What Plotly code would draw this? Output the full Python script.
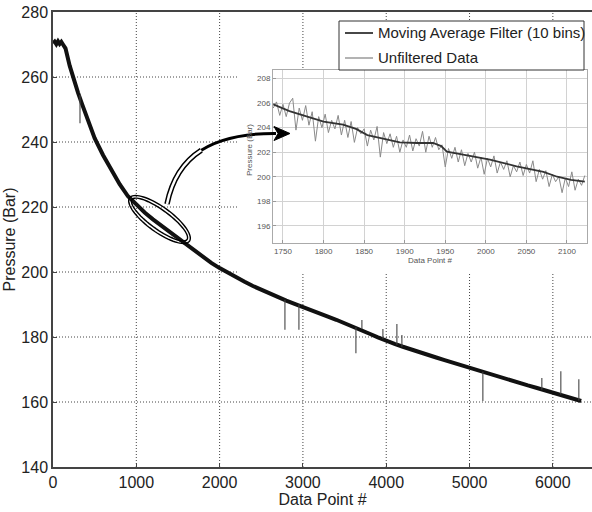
import math
import plotly.graph_objects as go

# ---------------- data ----------------
main_x = [0, 20, 40, 60, 80, 100, 120, 150, 200, 250, 300, 350, 400, 450, 500,
          600, 700, 800, 900, 1000, 1100, 1200, 1300, 1400, 1500, 1600, 1700,
          1800, 1900, 2000, 2100, 2200, 2300, 2400, 2500, 2600, 2700, 2800,
          2900, 3000, 3100, 3200, 3300, 3400, 3500, 3600, 3700, 3800, 3900,
          4000, 4100, 4200, 4300, 4400, 4500, 4600, 4700, 4800, 4900, 5000,
          5100, 5200, 5300, 5400, 5500, 5600, 5700, 5800, 5900, 6000, 6100,
          6200, 6300, 6340]
main_y = [270.4, 270.9, 270.1, 271.0, 270.2, 270.8, 270.0, 268.8, 263.5, 258.8,
          255.2, 251.6, 248.0, 244.5, 241.2, 236.0, 231.2, 227.0, 223.3, 220.6,
          218.3, 216.2, 214.3, 212.4, 210.5, 208.5, 206.5, 204.6, 202.8, 201.2,
          199.7, 198.3, 197.0, 195.7, 194.5, 193.3, 192.2, 191.2, 190.2, 189.3,
          188.3, 187.3, 186.3, 185.3, 184.3, 183.2, 182.2, 181.0, 179.9, 178.8,
          177.9, 177.0, 176.1, 175.3, 174.5, 173.7, 172.9, 172.1, 171.3, 170.5,
          169.7, 168.9, 168.1, 167.3, 166.5, 165.8, 165.1, 164.4, 163.7, 163.0,
          162.3, 161.5, 160.6, 160.3]

spike_x = [324, 2784, 2952, 3636, 3708, 3960, 4128, 4188, 5160, 5868, 6096, 6312]
spike_base = [254.5, 191.5, 190.0, 183.0, 182.5, 179.5, 177.6, 177.0, 169.3, 163.8, 162.3, 160.5]
spike_tip = [245.8, 182.2, 182.2, 175.0, 185.2, 182.5, 184.0, 180.6, 160.3, 167.4, 169.5, 167.0]

raw_x = list(range(1738, 2123, 4))
raw_y = [205.6, 206.1, 205.0, 205.9, 204.9, 206.0, 206.4, 203.8, 205.6, 204.6,
         205.8, 204.2, 205.3, 202.9, 204.9, 204.0, 205.1, 203.6, 204.6, 203.9,
         205.0, 203.4, 204.6, 203.2, 204.5, 202.8, 204.0, 203.5, 203.9, 202.5,
         203.8, 203.0, 204.1, 201.6, 203.6, 202.7, 203.5, 202.4, 203.3, 202.0,
         203.0, 202.4, 203.4, 202.1, 203.1, 202.5, 203.7, 202.0, 203.3, 202.4,
         203.2, 202.2, 202.6, 200.8, 202.3, 201.5, 202.4, 201.2, 202.2, 200.9,
         201.9, 201.2, 202.0, 200.7, 201.6, 200.2, 201.5, 200.8, 201.7, 200.3,
         201.2, 200.6, 201.3, 200.0, 200.9, 200.4, 201.2, 200.1, 201.0, 200.3,
         201.3, 199.6, 200.6, 199.8, 200.5, 199.2, 200.2, 199.6, 200.0, 198.7,
         199.9, 199.2, 200.4, 198.9, 199.8, 199.3, 200.1]

ma_x = [1738, 1758, 1780, 1800, 1824, 1840, 1854, 1875, 1894, 1915, 1935,
        1945, 1952, 1972, 2005, 2038, 2071, 2088, 2105, 2122]
ma_y = [205.9, 205.35, 204.9, 204.5, 204.25, 203.9, 203.4, 203.1, 202.8,
        202.75, 202.75, 202.5, 202.05, 201.8, 201.4, 200.85, 200.4, 200.0,
        199.75, 199.6]

legend_labels = ["Moving Average Filter (10 bins)", "Unfiltered Data"]
main_xticks = [0, 1000, 2000, 3000, 4000, 5000, 6000]
main_yticks = [140, 160, 180, 200, 220, 240, 260, 280]
inset_xticks = [1750, 1800, 1850, 1900, 1950, 2000, 2050, 2100]
inset_yticks = [196, 198, 200, 202, 204, 206, 208]

# ---------------- layout geometry ----------------
W, H = 592, 512
ML, MR, MT, MB = 53, 0, 12, 45
PW, PH = W - ML - MR, H - MT - MB
FONT = "Arial, Liberation Sans, sans-serif"
MA_COLOR, RAW_COLOR = "#333333", "#8a8a8a"


def P(px, py):
    return ((px - ML) / PW, (H - MB - py) / PH)


def pt(px, py):
    x, y = P(px, py)
    return f"{x:.5f},{y:.5f}"


fig = go.Figure()

# main curve
fig.add_trace(go.Scatter(x=main_x, y=main_y, mode="lines",
                         line=dict(color="#111111", width=4),
                         showlegend=False, hoverinfo="skip"))
# spikes
sx, sy = [], []
for x, b, t in zip(spike_x, spike_base, spike_tip):
    sx += [x, x, None]
    sy += [b, t, None]
fig.add_trace(go.Scatter(x=sx, y=sy, mode="lines",
                         line=dict(color="#444444", width=1.1),
                         showlegend=False, hoverinfo="skip"))

# inset traces
fig.add_trace(go.Scatter(x=raw_x, y=raw_y, mode="lines", name=legend_labels[1],
                         line=dict(color=RAW_COLOR, width=1),
                         xaxis="x2", yaxis="y2", showlegend=False))
fig.add_trace(go.Scatter(x=ma_x, y=ma_y, mode="lines", name=legend_labels[0],
                         line=dict(color=MA_COLOR, width=1.8),
                         xaxis="x2", yaxis="y2", showlegend=False))

shapes = []
for v in main_xticks[1:]:
    shapes.append(dict(type="line", xref="x", yref="paper", x0=v, x1=v, y0=0, y1=1,
                       line=dict(color="#444444", width=1, dash="1px,2px"), layer="below"))
for v in main_yticks[1:-1]:
    shapes.append(dict(type="line", xref="paper", yref="y", x0=0, x1=1, y0=v, y1=v,
                       line=dict(color="#444444", width=1, dash="1px,2px"), layer="below"))
# white box behind inset
x0, y0 = P(238, 274)
x1, y1 = P(600, 69)
shapes.append(dict(type="rect", xref="paper", yref="paper", x0=x0, x1=x1, y0=y0, y1=y1,
                   fillcolor="white", line=dict(width=0), layer="below"))


def ellipse_path(cx, cy, a, b, ang):
    c, s = math.cos(math.radians(ang)), math.sin(math.radians(ang))
    pts = []
    for i in range(73):
        t = 2 * math.pi * i / 72
        ex = cx + a * math.cos(t) * c - b * math.sin(t) * s
        ey = cy + a * math.cos(t) * s + b * math.sin(t) * c
        pts.append(pt(ex, ey))
    return "M " + " L ".join(pts) + " Z"


for a, b in [(37, 12.5), (34, 9.5)]:
    shapes.append(dict(type="path", xref="paper", yref="paper",
                       path=ellipse_path(159.5, 219.5, a, b, 36),
                       line=dict(color="black", width=1.4), layer="above"))

# curved arrow
P0, P1, P2, P3 = (167, 204), (175, 165), (200, 133), (276, 133.5)
shapes.append(dict(type="path", xref="paper", yref="paper",
                   path=f"M {pt(*P0)} C {pt(*P1)} {pt(*P2)} {pt(*P3)}",
                   line=dict(color="black", width=3), layer="above"))


def lerp(p, q, t):
    return (p[0] + (q[0] - p[0]) * t, p[1] + (q[1] - p[1]) * t)


ts = 0.55
A = lerp(P0, P1, ts); Bq = lerp(P1, P2, ts); C = lerp(P2, P3, ts)
D = lerp(A, Bq, ts); E = lerp(Bq, C, ts); F = lerp(D, E, ts)
sub = f"M {pt(*P0)} C {pt(*A)} {pt(*D)} {pt(*F)}"
shapes.append(dict(type="path", xref="paper", yref="paper", path=sub,
                   line=dict(color="black", width=5.5), layer="above"))
shapes.append(dict(type="path", xref="paper", yref="paper", path=sub,
                   line=dict(color="white", width=2.5), layer="above"))
shapes.append(dict(type="path", xref="paper", yref="paper",
                   path=f"M {pt(290, 133.5)} L {pt(274, 126.5)} L {pt(278, 133.5)} L {pt(274, 140.5)} Z",
                   fillcolor="black", line=dict(color="black", width=1), layer="above"))

# legend box (drawn by hand to match the original placement)
lx0, ly0 = P(339, 70)
lx1, ly1 = P(584, 21)
shapes.append(dict(type="rect", xref="paper", yref="paper", x0=lx0, x1=lx1, y0=ly0, y1=ly1,
                   fillcolor="white", line=dict(color="#333333", width=1), layer="above"))
annotations = []
for row_y, label, col, wid in [(33, legend_labels[0], MA_COLOR, 1.8),
                               (58, legend_labels[1], RAW_COLOR, 1.3)]:
    a0 = P(345, row_y)
    a1 = P(373, row_y)
    shapes.append(dict(type="line", xref="paper", yref="paper", x0=a0[0], x1=a1[0],
                       y0=a0[1], y1=a1[1], line=dict(color=col, width=wid), layer="above"))
    tp = P(376, row_y)
    annotations.append(dict(text=label, xref="paper", yref="paper", x=tp[0], y=tp[1],
                            xanchor="left", yanchor="middle", showarrow=False,
                            font=dict(family=FONT, size=15, color="#222222")))

ip = P(249, 122)
annotations.append(dict(text="Pressure (Bar)", xref="paper", yref="paper",
                        x=ip[0], y=ip[1], showarrow=False, textangle=-90,
                        font=dict(family=FONT, size=8, color="#555555")))

fig.update_layout(
    template="none",
    width=W, height=H,
    margin=dict(l=ML, r=MR, t=MT, b=MB, pad=0),
    paper_bgcolor="white", plot_bgcolor="rgba(0,0,0,0)",
    font=dict(family=FONT, size=16, color="#222222"),
    showlegend=False,
    xaxis=dict(range=[0, 6470], tickvals=main_xticks, showgrid=False, zeroline=False,
               showline=True, linecolor="#444444", linewidth=1.5, mirror=True,
               ticks="inside", ticklen=4, tickcolor="#444444",
               title=dict(text="Data Point #", standoff=3,
                          font=dict(family=FONT, size=16, color="#222222")),
               automargin=False),
    yaxis=dict(range=[140, 280], tickvals=main_yticks, showgrid=False, zeroline=False,
               showline=True, linecolor="#444444", linewidth=1.5,
               ticks="inside", ticklen=4, tickcolor="#444444",
               title=dict(text="Pressure (Bar)", standoff=2,
                          font=dict(family=FONT, size=16, color="#222222")),
               automargin=False),
    xaxis2=dict(domain=[P(273, 0)[0], P(587, 0)[0]], anchor="y2",
                range=[1737.7, 2124.7], tickvals=inset_xticks,
                showgrid=True, gridcolor="#d2d2d2", gridwidth=1, zeroline=False,
                showline=True, linecolor="#aaaaaa", linewidth=1, mirror=True,
                ticks="inside", ticklen=3, tickcolor="#999999",
                tickfont=dict(family=FONT, size=8, color="#555555"),
                title=dict(text="Data Point #", standoff=0,
                           font=dict(family=FONT, size=8, color="#555555")),
                automargin=False),
    yaxis2=dict(domain=[P(0, 243)[1], P(0, 70)[1]], anchor="x2",
                range=[194.6, 208.7], tickvals=inset_yticks,
                showgrid=True, gridcolor="#d2d2d2", gridwidth=1, zeroline=False,
                showline=True, linecolor="#aaaaaa", linewidth=1, mirror=True,
                ticks="inside", ticklen=3, tickcolor="#999999",
                tickfont=dict(family=FONT, size=8, color="#555555"),
                automargin=False),
    shapes=shapes,
    annotations=annotations,
)

fig.write_html("out.html", config={"displayModeBar": False},
               post_script="document.body.style.margin='0';document.body.style.padding='0';")
